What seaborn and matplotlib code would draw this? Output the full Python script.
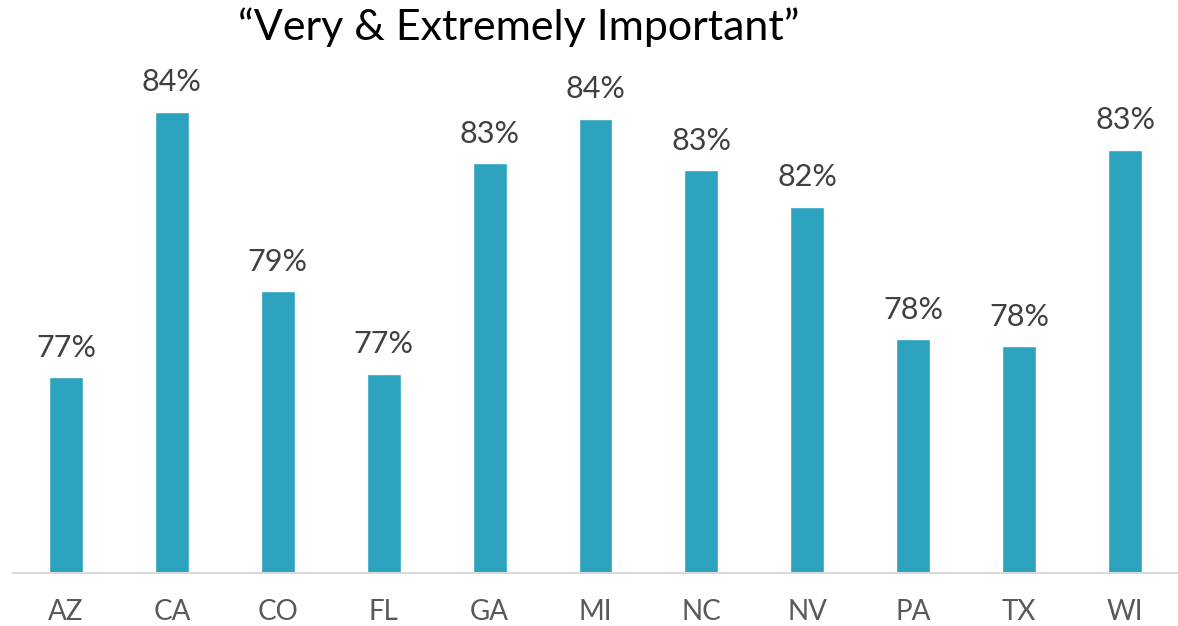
import pandas as pd
import matplotlib.pyplot as plt
import seaborn as sns

# values (labels are rounded)
states = ["AZ", "CA", "CO", "FL", "GA", "MI", "NC", "NV", "PA", "TX", "WI"]
values = [76.6, 84.3, 79.1, 76.7, 82.8, 84.1, 82.6, 81.55, 77.7, 77.5, 83.2]
labels = ["77%", "84%", "79%", "77%", "83%", "84%", "83%", "82%", "78%", "78%", "83%"]

df = pd.DataFrame({"state": states, "value": values})

sns.set_style("white")
plt.rcParams["font.family"] = ["Lato", "DejaVu Sans"]

fig = plt.figure(figsize=(11.78, 6.26), dpi=100)
ax = fig.add_axes([13 / 1178, 1 - 573 / 626, 1 - 13 / 1178, 513 / 626])

sns.barplot(data=df, x="state", y="value", color="#2CA2BF", width=0.32,
            saturation=1, ax=ax)
ax.set_ylim(70.92, 85.8)

for i, (v, lab) in enumerate(zip(values, labels)):
    ax.annotate(lab, (i, v), xytext=(0, 11), textcoords="offset points",
                ha="center", va="bottom", fontsize=22, color="#404040")

ax.set_xlabel("")
ax.set_ylabel("")
ax.set_yticks([])
ax.tick_params(axis="x", length=0, pad=19, labelsize=20, labelcolor="#595959")
for s in ["top", "right", "left"]:
    ax.spines[s].set_visible(False)
ax.spines["bottom"].set_color("#D9D9D9")
ax.spines["bottom"].set_linewidth(1.5)

fig.text(519 / 1178, 1 - 27 / 626, "\u201cVery & Extremely Important\u201d",
         ha="center", va="center", fontsize=31, color="black")

fig.savefig("out.png", dpi=100)
